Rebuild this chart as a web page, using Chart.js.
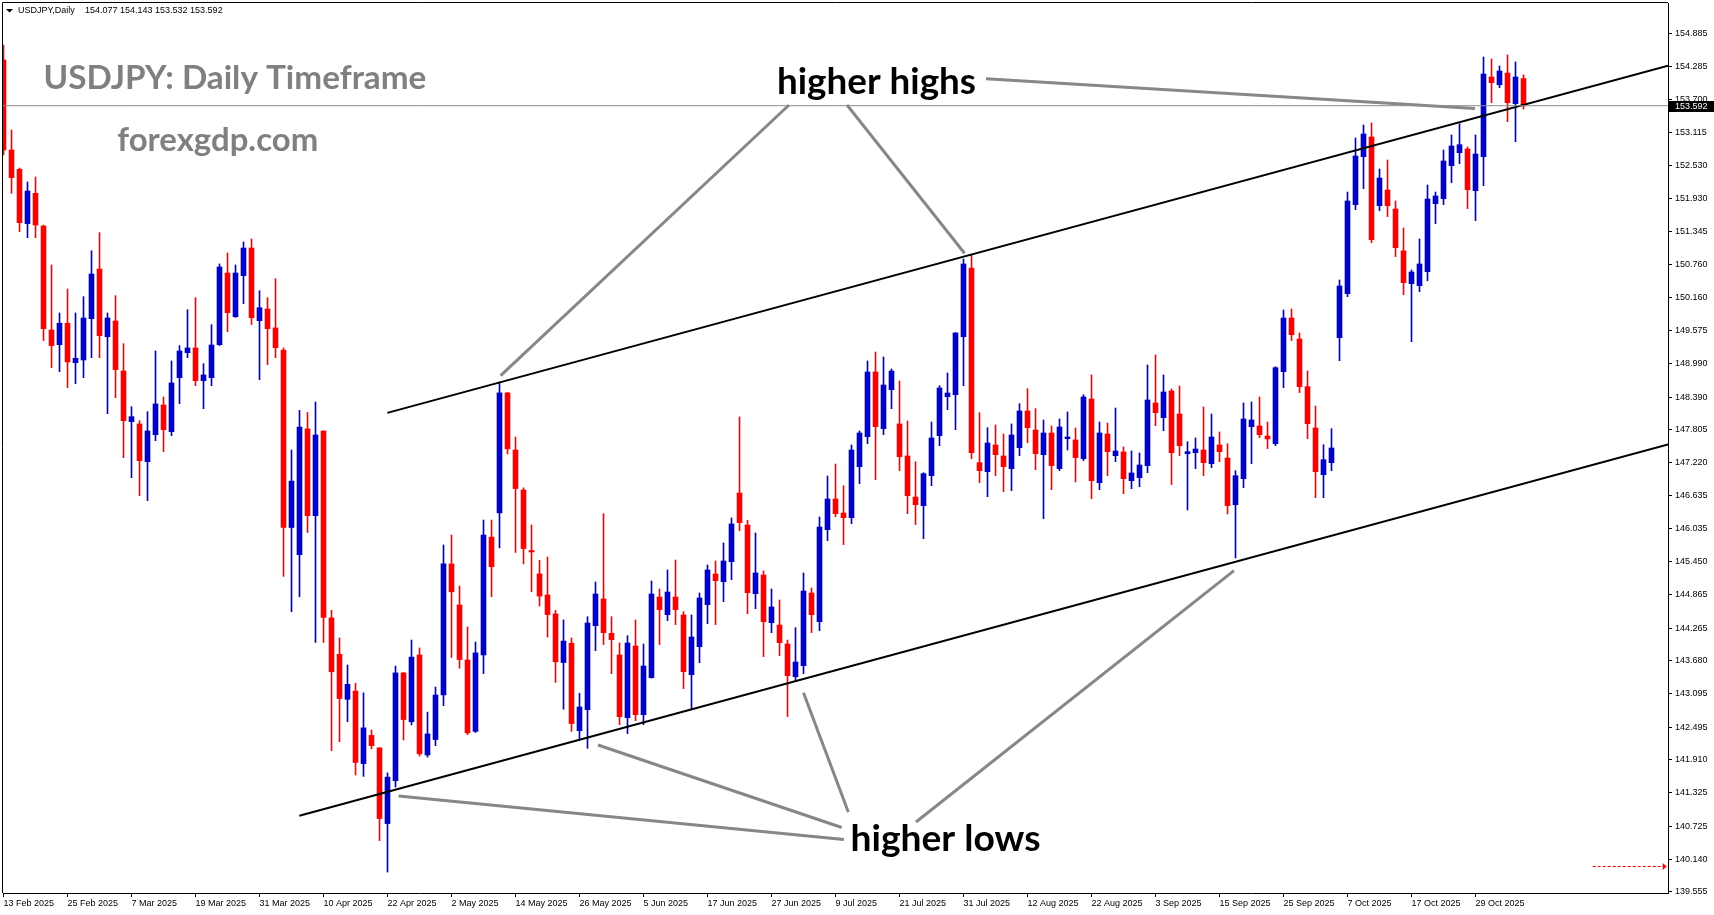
<!DOCTYPE html>
<html><head><meta charset="utf-8">
<script src="https://cdn.jsdelivr.net/npm/chart.js@4.4.1/dist/chart.umd.min.js"></script>
<style>html,body{margin:0;padding:0;background:#fff;overflow:hidden}#wrap{width:1714px;height:915px;position:relative}canvas{display:block}</style>
</head><body><div id="wrap"><canvas id="c" width="1714" height="915" style="width:1714px;height:915px"></canvas></div>
<script>
// ---------- DATA ----------
const symbolHeader = 'USDJPY,Daily';
const headerValues = '154.077 154.143 153.532 153.592';
const tickLabels = ['13 Feb 2025','25 Feb 2025','7 Mar 2025','19 Mar 2025','31 Mar 2025','10 Apr 2025','22 Apr 2025','2 May 2025','14 May 2025','26 May 2025','5 Jun 2025','17 Jun 2025','27 Jun 2025','9 Jul 2025','21 Jul 2025','31 Jul 2025','12 Aug 2025','22 Aug 2025','3 Sep 2025','15 Sep 2025','25 Sep 2025','7 Oct 2025','17 Oct 2025','29 Oct 2025'];
const yTickValues = [154.885,154.285,153.700,153.115,152.530,151.930,151.345,150.760,150.160,149.575,148.990,148.390,147.805,147.220,146.635,146.035,145.450,144.865,144.265,143.680,143.095,142.495,141.910,141.325,140.725,140.140,139.555];
const opens = [154.408,152.801,152.457,151.485,152.028,151.444,149.587,149.325,149.707,149.003,149.051,149.789,150.676,149.467,149.748,148.855,147.950,147.909,147.235,147.718,148.248,147.771,148.735,149.182,149.266,148.682,148.735,149.325,150.605,149.825,150.557,151.051,149.753,149.962,149.623,149.230,146.060,145.576,147.821,146.271,147.782,144.446,143.796,142.992,143.139,141.844,142.348,142.125,140.773,141.539,143.464,142.591,143.784,141.998,142.273,143.069,145.410,144.677,143.694,142.419,143.784,145.889,146.321,148.464,147.444,146.730,145.650,145.232,144.855,144.518,143.649,143.994,142.432,142.807,144.307,144.784,144.171,143.784,142.664,143.944,142.718,143.378,144.819,144.503,144.819,144.498,143.432,143.932,144.682,145.230,145.092,145.450,146.676,146.105,144.878,145.212,144.360,144.319,143.980,143.396,143.592,144.891,144.378,146.021,146.569,146.319,146.235,147.146,147.682,148.837,147.825,148.521,147.909,147.337,146.605,146.450,146.985,147.700,148.396,148.432,149.467,150.694,147.218,147.057,147.534,147.337,147.110,147.485,148.141,147.801,147.360,147.748,147.110,147.646,147.623,147.289,148.355,146.860,147.730,147.342,147.409,146.896,146.950,147.164,148.284,148.021,148.498,148.087,147.378,147.396,147.444,147.200,147.534,147.301,146.467,146.932,147.860,147.873,147.694,147.557,148.842,149.801,149.426,148.575,147.837,147.003,147.218,149.450,150.235,151.825,152.682,153.034,151.807,152.087,151.748,151.000,150.414,150.378,150.628,151.842,151.931,152.521,152.753,152.819,152.074,152.682,154.105,153.967,154.176,153.628,154.077];
const highs = [154.676,153.159,152.480,152.230,152.319,151.460,150.748,149.891,150.319,149.891,150.182,151.003,151.325,149.891,150.200,149.343,148.218,147.968,148.128,149.212,148.391,149.034,149.307,149.950,150.164,148.985,149.682,150.766,150.962,150.748,151.159,151.212,150.289,150.164,150.503,149.268,147.444,148.151,148.114,148.300,147.790,144.580,144.089,143.605,143.280,143.107,142.444,142.130,141.678,143.585,143.470,144.051,143.910,142.764,143.210,145.748,145.926,145.014,144.282,144.014,146.194,146.194,148.657,148.470,147.675,146.768,146.105,145.473,145.532,144.580,144.409,144.089,143.100,144.467,145.087,146.307,144.467,143.998,144.128,144.409,143.980,145.105,144.962,145.302,145.480,144.557,144.498,144.891,145.391,145.462,145.784,146.230,148.034,146.189,145.962,145.284,144.962,144.766,144.051,144.271,145.248,144.980,146.248,146.980,147.194,146.807,147.534,147.784,149.034,149.194,149.105,148.891,148.676,147.962,147.235,147.039,147.944,148.592,148.819,149.540,150.855,150.926,148.110,147.843,147.891,147.730,147.909,148.271,148.539,148.182,147.980,147.873,147.998,148.123,147.837,148.432,148.784,147.944,147.926,148.194,147.498,147.426,147.391,148.962,149.141,148.784,148.534,148.587,147.593,147.659,148.212,148.087,147.766,147.557,147.075,148.284,148.302,148.391,147.944,148.932,149.944,149.962,149.534,148.855,148.230,147.539,147.825,150.480,152.051,153.016,153.248,153.284,152.462,152.623,151.891,151.409,150.659,151.212,152.176,152.051,152.801,153.069,153.271,152.855,153.069,154.462,154.426,154.301,154.498,154.373,154.143];
const lows = [152.712,152.028,151.342,151.235,151.235,149.396,148.914,148.842,148.557,148.628,148.735,149.093,149.093,148.093,148.378,147.307,146.950,146.628,146.539,147.610,147.414,147.700,148.271,149.093,148.592,148.182,148.592,149.307,149.557,149.810,150.057,149.682,148.700,148.967,149.093,145.187,144.555,144.823,145.971,144.007,144.007,142.075,142.234,142.591,141.641,141.616,142.107,140.468,139.907,141.425,142.266,142.534,141.978,141.960,142.164,142.878,143.739,143.548,142.362,142.400,143.451,144.823,145.696,147.375,145.614,145.410,144.912,144.657,144.103,143.293,142.814,142.419,142.266,142.117,143.860,143.968,143.450,142.539,142.378,142.610,142.539,143.370,143.968,144.396,144.325,143.182,142.814,143.646,144.343,144.325,144.735,145.128,146.003,144.521,144.610,143.753,144.182,143.771,142.682,143.325,143.450,144.182,144.218,145.825,146.253,145.753,146.128,146.842,147.557,146.914,147.718,148.182,147.075,146.307,146.110,145.860,146.807,147.521,148.164,147.807,148.592,147.289,146.860,146.610,146.985,146.700,146.718,147.342,147.575,147.093,146.218,146.735,147.075,147.444,146.873,147.253,146.575,146.735,146.985,147.235,146.664,146.753,146.789,147.039,147.878,147.789,146.825,147.342,146.373,147.110,146.985,147.128,147.235,146.301,145.516,146.771,147.199,147.664,147.468,147.521,148.557,149.396,148.467,147.646,146.592,146.592,147.075,149.039,150.182,151.735,152.110,151.146,151.717,151.610,150.896,150.217,149.378,150.271,150.467,151.485,151.825,152.217,152.557,151.753,151.539,152.164,153.646,153.914,153.307,152.949,153.532];
const closes = [152.801,152.307,151.503,152.069,151.462,149.610,149.307,149.707,149.016,149.082,149.801,150.587,149.485,149.801,148.878,147.968,148.039,147.253,147.784,148.266,147.807,148.641,149.212,149.266,148.682,148.784,149.319,150.712,149.896,150.605,151.051,149.807,149.985,149.610,149.271,146.060,146.889,147.853,146.271,147.712,144.453,143.484,143.005,143.260,141.864,142.482,142.164,140.862,141.603,143.464,142.630,143.746,142.018,142.374,143.069,145.410,144.912,143.701,142.392,143.821,145.926,145.359,148.464,147.464,146.755,145.684,145.623,144.835,144.505,143.662,144.032,142.559,142.855,144.355,144.873,144.182,144.057,142.682,143.998,142.718,143.587,144.873,144.592,144.908,144.592,143.485,144.105,144.801,145.302,145.110,145.462,146.123,146.146,144.896,145.248,144.378,144.641,144.003,143.414,143.658,144.926,144.503,146.069,146.569,146.307,146.235,147.444,147.748,148.837,147.860,148.605,148.855,147.325,146.628,146.467,147.021,147.659,148.551,148.462,149.534,150.766,147.396,147.075,147.569,147.360,147.146,147.712,148.141,147.843,147.378,147.748,147.164,147.855,147.676,147.307,148.391,146.896,147.748,147.414,147.426,146.932,147.034,147.176,148.337,148.110,148.480,147.396,147.521,147.414,147.462,147.218,147.676,147.414,146.450,146.985,147.998,147.980,147.718,147.641,148.914,149.801,149.503,148.575,147.914,147.057,147.271,147.480,150.373,151.891,152.694,153.087,151.200,152.301,151.807,151.057,150.432,150.623,150.766,151.926,151.980,152.605,152.873,152.896,152.092,152.730,154.158,154.003,154.212,153.646,154.105,153.592];
const lastPrice = 153.592;
// channel lines and pointer lines: [candle index, price] end points
const upperChannel = [[47.98,148.107],[208.06,154.307]];
const lowerChannel = [[36.98,140.914],[208.06,147.542]];
const highPointers = [
  [[98.19,153.605],[62.14,148.771]],
  [[105.44,153.605],[120.13,150.957]],
  [[122.81,154.075],[183.94,153.542]]
];
const lowPointers = [
  [[105.06,140.489],[49.37,141.266]],
  [[104.78,140.703],[74.31,142.176]],
  [[105.60,140.980],[100.00,143.110]],
  [[114.06,140.801],[153.81,145.291]]
];
const notes = [
  {text:'USDJPY: Daily Timeframe', color:'#808080'},
  {text:'forexgdp.com', color:'#808080'},
  {text:'higher highs', color:'#000000'},
  {text:'higher lows', color:'#000000'}
];
// ---------- STYLE / LAYOUT ----------
const UP = '#0000CD', DOWN = '#FF0000';
const notePos = [
  {x:43.5, y:89.3, w:383},
  {x:117.3, y:150.7, w:201},
  {x:777, y:94, w:199},
  {x:850.5, y:850.5, w:190}
];
const X_MIN = (3 - 3.5) / 8, X_MAX = (1668 - 3.5) / 8;
const Y_MAX = 154.885 + 30.3 / 56, Y_MIN = Y_MAX - 890 / 56;
const candleColors = opens.map((o, i) => closes[i] >= o ? UP : DOWN);
const pts = arr => arr.map(p => ({x: p[0], y: p[1]}));
const lineDs = (arr, color, w) => ({type:'line', data: pts(arr), borderColor: color, borderWidth: w, pointRadius: 0, fill: false, order: 1, tension: 0});

const datasets = [
  {type:'bar', data: lows.map((l, i) => ({x: i, y: [l, highs[i]]})), backgroundColor: candleColors, barThickness: 1, grouped: false, borderWidth: 0, order: 10},
  {type:'bar', data: opens.map((o, i) => ({x: i, y: [o, closes[i]]})), backgroundColor: candleColors, barThickness: 5, minBarLength: 1, grouped: false, borderWidth: 0, order: 9},
  lineDs([[X_MIN, lastPrice],[X_MAX, lastPrice]], '#8c8c8c', 1),
  lineDs(upperChannel, '#000', 2),
  lineDs(lowerChannel, '#000', 2),
  ...highPointers.map(p => lineDs(p, '#878787', 3)),
  ...lowPointers.map(p => lineDs(p, '#878787', 3))
];

const overlay = {
  id: 'overlay',
  afterDraw(chart) {
    const ctx = chart.ctx, a = chart.chartArea, ys = chart.scales.y, xs = chart.scales.x;
    ctx.save();
    // frame
    ctx.strokeStyle = '#000'; ctx.lineWidth = 1;
    ctx.beginPath(); ctx.moveTo(a.left - 0.5, a.bottom); ctx.lineTo(a.left - 0.5, a.top - 0.5); ctx.lineTo(a.right, a.top - 0.5); ctx.stroke();
    // header
    ctx.fillStyle = '#000';
    ctx.beginPath(); ctx.moveTo(6, 9); ctx.lineTo(13, 9); ctx.lineTo(9.5, 12.5); ctx.closePath(); ctx.fill();
    ctx.font = '9px "Liberation Sans"'; ctx.textBaseline = 'middle'; ctx.textAlign = 'left';
    ctx.fillText(symbolHeader, 18, 11);
    ctx.fillText(headerValues, 85, 11);
    // notes
    notes.forEach((n, k) => {
      const p = notePos[k];
      ctx.font = 'bold 40px Lato';
      const w = ctx.measureText(n.text).width;
      const s = 40 * p.w / w;
      ctx.font = 'bold ' + s.toFixed(2) + 'px Lato';
      ctx.fillStyle = n.color; ctx.textBaseline = 'alphabetic';
      ctx.fillText(n.text, p.x, p.y);
    });
    // last price box
    const py = Math.round(ys.getPixelForValue(lastPrice));
    ctx.fillStyle = '#000';
    ctx.fillRect(a.right + 1, py - 5, 46, 11);
    ctx.fillStyle = '#fff'; ctx.font = '9px "Liberation Sans"'; ctx.textBaseline = 'middle';
    ctx.fillText(lastPrice.toFixed(3), a.right + 7, py + 0.5);
    // red shift arrow
    const ay = Math.round(ys.getPixelForValue(140.015)) + 0.5;
    const ax0 = xs.getPixelForValue(198.65), ax1 = xs.getPixelForValue(207.9);
    ctx.strokeStyle = '#ff0000'; ctx.lineWidth = 1; ctx.setLineDash([3, 2]);
    ctx.beginPath(); ctx.moveTo(ax0, ay); ctx.lineTo(ax1 - 3, ay); ctx.stroke();
    ctx.setLineDash([]); ctx.fillStyle = '#ff0000';
    ctx.beginPath(); ctx.moveTo(ax1 - 4, ay - 3.5); ctx.lineTo(ax1, ay); ctx.lineTo(ax1 - 4, ay + 3.5); ctx.closePath(); ctx.fill();
    ctx.restore();
  }
};

new Chart(document.getElementById('c'), {
  type: 'bar',
  data: { datasets },
  options: {
    responsive: false, animation: false, events: [],
    layout: { padding: { top: 3, left: 3, right: 0, bottom: 0 } },
    plugins: { legend: { display: false }, tooltip: { enabled: false } },
    scales: {
      x: {
        type: 'linear', min: X_MIN, max: X_MAX, offset: false,
        afterBuildTicks: s => { s.ticks = tickLabels.map((_, k) => ({ value: k * 8 })); },
        afterFit: s => { s.height = 22; s.paddingLeft = 0; s.paddingRight = 0; },
        ticks: { autoSkip: false, maxRotation: 0, minRotation: 0, align: 'start', padding: 1, color: '#000',
                 font: { family: 'Liberation Sans', size: 9 }, callback: v => tickLabels[Math.round(v / 8)] },
        grid: { drawOnChartArea: false, drawTicks: true, tickLength: 4, color: '#000', offset: false },
        border: { display: true, color: '#000', width: 1 }
      },
      y: {
        type: 'linear', position: 'right', min: Y_MIN, max: Y_MAX, beginAtZero: false,
        afterBuildTicks: s => { s.ticks = yTickValues.map(v => ({ value: v })); },
        afterFit: s => { s.width = 46; s.paddingTop = 0; s.paddingBottom = 0; },
        ticks: { autoSkip: false, padding: 3, color: '#000', font: { family: 'Liberation Sans', size: 9 },
                 callback: v => Number(v).toFixed(3) },
        grid: { drawOnChartArea: false, drawTicks: true, tickLength: 4, color: '#000' },
        border: { display: true, color: '#000', width: 1 }
      }
    }
  },
  plugins: [overlay]
});
</script>
</body></html>
